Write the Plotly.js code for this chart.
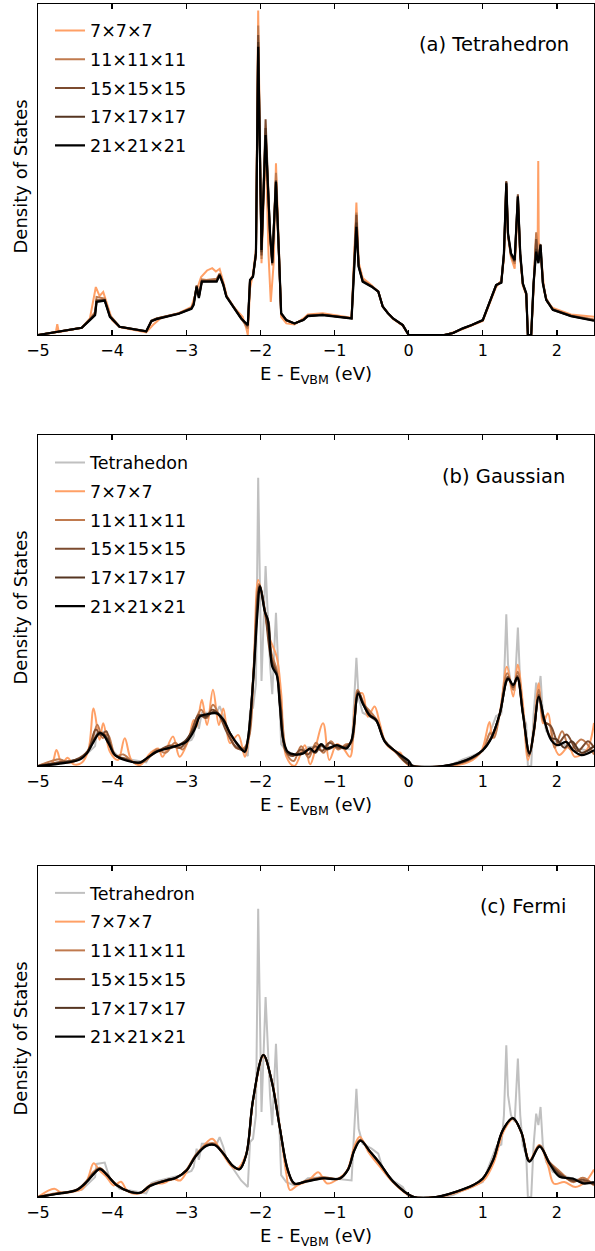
<!DOCTYPE html>
<html>
<head>
<meta charset="utf-8">
<script src="https://cdn.plot.ly/plotly-3.0.1.min.js"></script>
<style>html,body{margin:0;padding:0;background:#fff;}#chart{width:595px;height:1251px;}</style>
</head>
<body>
<div id="chart"></div>
<script>
// ---------------- DATA (energies in eV relative to VBM, DOS in arbitrary units) ----------------
const tickVals = [-5, -4, -3, -2, -1, 0, 1, 2];
const tickLabels = ['\u22125', '\u22124', '\u22123', '\u22122', '\u22121', '0', '1', '2'];
const meshLabels = ['7\u00d77\u00d77', '11\u00d711\u00d711', '15\u00d715\u00d715', '17\u00d717\u00d717', '21\u00d721\u00d721'];
const panelLabels = ['(a) Tetrahedron', '(b) Gaussian', '(c) Fermi'];
const refLabels = ['Tetrahedon', 'Tetrahedron'];

// (a) tetrahedron method
const tetraE = [-5.00,-4.41,-4.30,-4.23,-4.21,-4.10,-4.03,-3.90,-3.54,-3.47,-3.40,-3.10,-2.93,-2.90,-2.86,-2.83,-2.79,-2.73,-2.59,-2.55,-2.50,-2.46,-2.37,-2.26,-2.17,-2.14,-2.10,-2.06,-2.03,-1.985,-1.93,-1.87,-1.84,-1.79,-1.75,-1.72,-1.65,-1.54,-1.42,-1.36,-1.16,-0.77,-0.705,-0.675,-0.62,-0.50,-0.41,-0.35,-0.28,-0.21,-0.08,-0.01,0.00,0.48,0.60,0.73,0.85,1.00,1.18,1.25,1.285,1.317,1.34,1.38,1.43,1.473,1.505,1.54,1.586,1.608,1.653,1.685,1.72,1.75,1.779,1.81,1.855,1.945,2.06,2.19,2.50];
const tetra21 = [0.00,0.22,0.45,0.60,1.00,1.04,0.55,0.25,0.11,0.42,0.48,0.64,0.79,0.91,1.46,1.12,1.61,1.61,1.61,1.81,1.51,1.16,0.86,0.50,0.30,1.66,1.76,2.47,8.71,2.57,6.04,3.07,2.17,4.63,2.47,0.66,0.45,0.35,0.45,0.57,0.60,0.50,3.27,2.06,1.61,1.46,1.31,0.86,0.66,0.50,0.30,0.05,0.00,0.00,0.06,0.20,0.30,0.45,1.51,1.58,2.47,4.58,3.08,2.47,2.27,4.18,2.47,1.56,1.26,0.00,0.00,1.56,2.52,2.17,2.72,1.56,1.06,0.76,0.66,0.57,0.43];
const tetra17 = [0.00,0.22,0.46,0.62,1.02,1.05,0.56,0.25,0.11,0.43,0.49,0.65,0.80,0.93,1.48,1.14,1.62,1.62,1.63,1.82,1.52,1.17,0.86,0.51,0.28,1.66,1.77,2.45,8.85,2.50,6.25,3.05,2.20,4.65,2.45,0.65,0.45,0.35,0.46,0.58,0.61,0.50,3.40,2.08,1.62,1.47,1.31,0.86,0.66,0.50,0.30,0.05,0.00,0.00,0.06,0.20,0.30,0.45,1.51,1.59,2.45,4.62,3.05,2.45,2.25,4.20,2.45,1.55,1.25,0.00,0.00,1.55,2.60,2.20,2.75,1.58,1.07,0.76,0.66,0.57,0.44];
const tetra15 = [0.00,0.22,0.47,0.64,1.05,1.06,0.57,0.25,0.11,0.44,0.50,0.65,0.81,0.95,1.50,1.16,1.64,1.63,1.65,1.84,1.53,1.18,0.87,0.51,0.27,1.66,1.78,2.45,9.06,2.40,6.52,3.00,2.25,4.68,2.40,0.64,0.44,0.35,0.46,0.58,0.61,0.51,3.63,2.10,1.63,1.47,1.32,0.86,0.66,0.50,0.30,0.05,0.00,0.00,0.06,0.20,0.30,0.45,1.51,1.60,2.42,4.65,3.02,2.42,2.22,4.25,2.42,1.54,1.24,0.00,0.00,1.54,2.90,2.25,2.60,1.60,1.08,0.77,0.67,0.58,0.45];
const tetra11 = [0.00,0.22,0.48,0.70,1.15,1.10,0.60,0.25,0.10,0.40,0.50,0.66,0.82,0.98,1.45,1.20,1.68,1.66,1.70,1.86,1.55,1.20,0.88,0.52,0.20,1.62,1.80,2.40,9.35,2.30,6.10,2.90,2.10,4.90,2.35,0.62,0.44,0.34,0.47,0.59,0.62,0.51,3.70,2.12,1.65,1.48,1.32,0.86,0.66,0.50,0.30,0.04,0.00,0.00,0.06,0.19,0.30,0.44,1.49,1.62,2.40,4.50,3.00,2.40,2.15,4.10,2.40,1.52,1.23,0.00,0.00,1.50,3.10,2.35,2.50,1.62,1.10,0.78,0.68,0.59,0.47];
const tetra7E = [-5.00,-4.76,-4.74,-4.72,-4.41,-4.30,-4.22,-4.17,-4.12,-4.06,-4.00,-3.90,-3.54,-3.45,-3.35,-3.10,-2.93,-2.86,-2.80,-2.72,-2.65,-2.60,-2.55,-2.50,-2.45,-2.36,-2.27,-2.24,-2.19,-2.17,-2.14,-2.10,-2.06,-2.03,-1.985,-1.93,-1.89,-1.86,-1.82,-1.79,-1.75,-1.72,-1.65,-1.54,-1.42,-1.36,-1.16,-0.77,-0.705,-0.675,-0.62,-0.50,-0.41,-0.35,-0.21,-0.08,-0.01,0.00,0.50,0.73,1.00,1.18,1.25,1.285,1.317,1.34,1.38,1.43,1.473,1.505,1.54,1.586,1.608,1.653,1.685,1.72,1.740,1.748,1.755,1.79,1.83,1.87,1.945,2.06,2.19,2.50];
const tetra7 = [0.00,0.08,0.33,0.09,0.22,0.50,1.45,1.18,1.30,0.85,0.45,0.24,0.08,0.30,0.50,0.66,0.85,1.35,1.75,1.95,2.02,1.92,2.00,1.60,1.15,0.85,0.62,0.55,0.20,0.00,1.40,1.85,2.60,9.80,2.17,5.80,2.40,1.00,2.20,5.19,2.60,0.55,0.35,0.32,0.50,0.62,0.66,0.52,4.00,2.20,1.72,1.50,1.30,0.86,0.48,0.28,0.03,0.00,0.00,0.18,0.42,1.45,1.65,2.30,4.50,3.00,2.35,2.00,4.00,2.30,1.50,1.20,0.00,0.00,1.40,3.05,2.80,5.26,2.80,2.30,1.30,1.00,0.82,0.72,0.62,0.55];

// (b) Gaussian smearing
const gauss21E = [-5.00,-4.61,-4.43,-4.34,-4.25,-4.17,-4.12,-4.05,-3.96,-3.80,-3.62,-3.535,-3.40,-3.18,-3.00,-2.88,-2.82,-2.73,-2.59,-2.50,-2.41,-2.28,-2.21,-2.17,-2.10,-2.04,-2.005,-1.94,-1.90,-1.84,-1.78,-1.74,-1.69,-1.63,-1.54,-1.42,-1.33,-1.27,-1.18,-1.11,-0.97,-0.84,-0.77,-0.68,-0.62,-0.53,-0.44,-0.32,-0.17,0.01,0.05,0.46,0.78,1.00,1.115,1.23,1.34,1.41,1.465,1.54,1.63,1.69,1.756,1.83,1.92,2.01,2.125,2.215,2.33,2.50];
const gauss21 = [0.00,0.10,0.20,0.38,0.73,0.99,0.94,0.69,0.33,0.16,0.11,0.23,0.43,0.58,0.73,1.14,1.49,1.56,1.59,1.39,0.99,0.58,0.43,0.79,2.50,4.60,5.42,4.66,4.41,3.00,2.75,1.89,0.79,0.43,0.35,0.38,0.53,0.43,0.66,0.53,0.63,0.53,0.79,2.19,1.89,1.54,1.39,0.73,0.43,0.13,0.00,0.00,0.18,0.48,0.84,1.59,2.64,2.45,2.67,1.59,0.38,1.09,2.09,1.39,0.79,0.63,0.73,0.48,0.33,0.48];
const gauss17E = [-5.00,-4.62,-4.44,-4.34,-4.25,-4.17,-4.11,-4.04,-3.96,-3.80,-3.62,-3.53,-3.40,-3.20,-3.02,-2.88,-2.81,-2.73,-2.62,-2.50,-2.41,-2.28,-2.21,-2.17,-2.10,-2.005,-1.94,-1.89,-1.84,-1.78,-1.74,-1.69,-1.63,-1.53,-1.42,-1.33,-1.26,-1.18,-1.10,-0.97,-0.84,-0.77,-0.68,-0.62,-0.53,-0.44,-0.32,-0.17,0.02,0.47,0.78,1.00,1.115,1.23,1.34,1.41,1.465,1.54,1.63,1.69,1.756,1.83,1.92,2.00,2.10,2.20,2.33,2.50];
const gauss17 = [0.00,0.12,0.22,0.40,0.78,1.02,0.95,0.72,0.33,0.18,0.10,0.24,0.45,0.55,0.75,1.20,1.52,1.50,1.65,1.42,1.00,0.55,0.45,0.80,2.55,5.45,4.68,4.35,3.05,2.78,1.90,0.75,0.40,0.33,0.42,0.50,0.40,0.62,0.50,0.62,0.55,0.78,2.20,1.90,1.52,1.38,0.74,0.43,0.04,0.00,0.18,0.48,0.85,1.58,2.62,2.44,2.65,1.60,0.40,1.08,2.10,1.40,0.85,0.80,0.55,0.75,0.40,0.60];
const gauss15E = [-5.00,-4.70,-4.50,-4.33,-4.22,-4.15,-4.08,-3.98,-3.82,-3.65,-3.52,-3.38,-3.22,-3.08,-2.95,-2.83,-2.74,-2.65,-2.56,-2.46,-2.32,-2.22,-2.16,-2.10,-2.01,-1.94,-1.86,-1.78,-1.72,-1.66,-1.56,-1.45,-1.36,-1.26,-1.17,-1.07,-0.95,-0.84,-0.77,-0.68,-0.61,-0.52,-0.44,-0.32,-0.17,0.02,0.48,0.80,1.00,1.12,1.23,1.34,1.41,1.465,1.54,1.63,1.69,1.756,1.83,1.92,2.02,2.13,2.28,2.42,2.50];
const gauss15 = [0.00,0.12,0.18,0.45,1.10,0.92,1.05,0.35,0.22,0.08,0.25,0.45,0.62,0.55,0.95,1.55,1.45,1.70,1.55,1.05,0.55,0.50,0.85,2.60,5.45,4.70,3.30,2.80,1.70,0.45,0.30,0.50,0.35,0.60,0.45,0.70,0.55,0.60,0.75,2.25,1.90,1.55,1.40,0.75,0.42,0.03,0.00,0.17,0.48,0.90,1.58,2.70,2.38,2.72,1.62,0.35,1.05,2.15,1.35,1.20,0.70,0.95,0.45,0.75,0.55];
const gauss11E = [-5.00,-4.70,-4.60,-4.45,-4.30,-4.20,-4.13,-4.06,-3.95,-3.85,-3.70,-3.55,-3.40,-3.28,-3.15,-3.05,-2.92,-2.80,-2.72,-2.64,-2.55,-2.45,-2.33,-2.22,-2.15,-2.09,-2.02,-1.94,-1.85,-1.78,-1.71,-1.64,-1.55,-1.45,-1.35,-1.25,-1.15,-1.05,-0.95,-0.85,-0.77,-0.69,-0.60,-0.50,-0.42,-0.32,-0.17,0.02,0.50,0.80,1.00,1.10,1.15,1.23,1.33,1.41,1.47,1.54,1.62,1.69,1.756,1.83,1.90,1.97,2.07,2.18,2.33,2.50];
const gauss11 = [0.00,0.20,0.10,0.20,0.55,1.25,0.85,0.95,0.30,0.35,0.10,0.15,0.50,0.40,0.70,0.50,1.10,1.70,1.45,1.85,1.50,1.10,0.55,0.55,0.90,2.80,5.50,4.70,3.40,2.90,1.50,0.35,0.15,0.60,0.25,0.70,0.40,0.75,0.50,0.65,0.70,2.30,1.85,1.60,1.35,0.75,0.40,0.02,0.00,0.16,0.47,1.00,0.85,1.60,2.80,2.30,2.85,1.70,0.30,1.00,2.30,1.30,1.25,0.55,1.05,0.50,0.80,0.35];
const gauss7E = [-5.00,-4.82,-4.75,-4.68,-4.60,-4.52,-4.41,-4.32,-4.25,-4.17,-4.12,-4.03,-3.92,-3.83,-3.74,-3.62,-3.49,-3.38,-3.32,-3.18,-3.09,-2.97,-2.90,-2.86,-2.79,-2.72,-2.64,-2.56,-2.50,-2.41,-2.30,-2.21,-2.15,-2.09,-2.03,-1.96,-1.88,-1.78,-1.72,-1.65,-1.54,-1.40,-1.33,-1.155,-1.07,-0.97,-0.88,-0.79,-0.70,-0.624,-0.55,-0.46,-0.39,-0.30,-0.17,-0.11,-0.06,0.02,0.55,0.82,0.98,1.09,1.13,1.23,1.325,1.41,1.47,1.54,1.61,1.68,1.756,1.81,1.88,1.94,2.03,2.16,2.24,2.40,2.50];
const gauss7 = [0.00,0.05,0.48,0.08,0.25,0.05,0.10,0.48,1.74,0.79,1.29,0.43,0.18,0.84,0.18,0.03,0.38,0.53,0.28,0.89,0.28,0.79,1.39,1.19,2.00,1.24,2.30,1.24,1.74,0.69,0.94,0.28,1.00,3.00,5.62,4.90,3.90,3.30,2.20,0.28,0.00,0.63,0.05,1.29,0.18,0.66,0.53,0.28,2.09,2.20,1.49,1.80,1.29,0.65,0.43,0.40,0.15,0.00,0.00,0.13,0.45,1.33,0.84,1.59,3.00,2.10,3.06,1.90,0.18,0.99,2.50,1.29,1.59,0.79,0.33,0.58,0.28,0.48,1.30];

// (c) Fermi-Dirac smearing
const fermiE = [-5.00,-4.75,-4.48,-4.34,-4.25,-4.165,-4.08,-3.94,-3.76,-3.62,-3.49,-3.27,-3.14,-3.00,-2.87,-2.73,-2.62,-2.51,-2.37,-2.28,-2.19,-2.10,-1.96,-1.85,-1.74,-1.63,-1.54,-1.38,-1.155,-0.93,-0.82,-0.73,-0.65,-0.52,-0.39,-0.21,0.06,0.37,0.64,0.87,1.00,1.14,1.27,1.405,1.52,1.63,1.766,1.90,2.035,2.215,2.35,2.50];
const fermi21 = [0.00,0.09,0.21,0.46,0.69,0.84,0.69,0.36,0.16,0.13,0.33,0.50,0.58,0.79,1.24,1.54,1.57,1.34,0.94,0.84,1.29,2.93,4.29,3.53,2.12,0.82,0.41,0.47,0.56,0.56,0.82,1.42,1.70,1.37,1.02,0.47,0.01,0.00,0.16,0.36,0.56,1.12,2.02,2.38,1.96,1.07,1.52,1.01,0.61,0.56,0.41,0.45];
const fermi17 = [0.00,0.10,0.21,0.47,0.70,0.85,0.70,0.36,0.16,0.13,0.34,0.50,0.58,0.80,1.25,1.55,1.58,1.34,0.94,0.84,1.29,2.93,4.29,3.53,2.12,0.81,0.40,0.47,0.57,0.56,0.82,1.43,1.71,1.37,1.02,0.47,0.01,0.00,0.16,0.36,0.56,1.12,2.02,2.38,1.96,1.08,1.53,1.02,0.66,0.52,0.45,0.40];
const fermi15 = [0.00,0.10,0.22,0.48,0.72,0.86,0.70,0.37,0.15,0.13,0.34,0.51,0.57,0.80,1.26,1.56,1.59,1.35,0.93,0.85,1.28,2.92,4.30,3.52,2.12,0.80,0.40,0.48,0.58,0.56,0.83,1.44,1.72,1.36,1.01,0.47,0.01,0.00,0.16,0.36,0.56,1.12,2.02,2.38,1.95,1.08,1.55,1.04,0.72,0.48,0.52,0.38];
const fermi11 = [0.00,0.12,0.20,0.50,0.76,0.88,0.68,0.38,0.15,0.12,0.36,0.49,0.56,0.82,1.28,1.58,1.62,1.36,0.92,0.86,1.27,2.91,4.28,3.54,2.13,0.78,0.38,0.50,0.60,0.55,0.84,1.46,1.74,1.36,1.00,0.46,0.01,0.00,0.15,0.35,0.55,1.10,2.00,2.37,1.94,1.09,1.56,1.05,0.78,0.45,0.58,0.35];
const fermi7E = [-5.00,-4.78,-4.68,-4.55,-4.40,-4.32,-4.25,-4.17,-4.08,-3.98,-3.88,-3.80,-3.70,-3.58,-3.45,-3.30,-3.18,-3.08,-2.95,-2.82,-2.65,-2.55,-2.40,-2.32,-2.20,-2.10,-1.96,-1.85,-1.74,-1.65,-1.60,-1.50,-1.35,-1.22,-1.10,-0.95,-0.83,-0.73,-0.66,-0.54,-0.40,-0.20,0.05,0.40,0.66,0.88,1.02,1.15,1.28,1.41,1.53,1.63,1.76,1.88,1.96,2.10,2.25,2.38,2.50];
const fermi7 = [0.00,0.25,0.12,0.15,0.25,0.60,1.02,0.80,0.62,0.35,0.46,0.20,0.10,0.15,0.38,0.42,0.55,0.50,0.95,1.40,1.76,1.45,0.95,0.85,1.25,2.90,4.25,3.55,2.15,0.70,0.21,0.35,0.50,0.75,0.41,0.55,0.80,1.55,1.82,1.35,0.95,0.42,0.00,0.00,0.14,0.33,0.52,1.05,1.98,2.36,1.90,1.10,1.57,0.95,0.40,0.45,0.30,0.45,0.83];

// ---------------- STYLE ----------------
const meshColors = ['#ffa066', '#c07a4e', '#7c4b2f', '#553521', '#000000'];
const refColor = '#c0c0c0';
const FONT = 'DejaVu Sans, sans-serif';

function line(x, y, name, color, ax, leg, shape) {
  return {
    type: 'scatter', mode: 'lines', x: x, y: y, name: name,
    xaxis: 'x' + ax, yaxis: 'y' + ax, legend: leg, legendgroup: leg + name,
    line: {color: color, width: color === '#000000' ? 2.2 : 2, shape: shape, smoothing: 1},
    hoverinfo: 'skip'
  };
}

const traces = [];
// panel a
const tetraSets = [[tetra7E, tetra7], [tetraE, tetra11], [tetraE, tetra15], [tetraE, tetra17], [tetraE, tetra21]];
tetraSets.forEach((s, i) => traces.push(line(s[0], s[1], meshLabels[i], meshColors[i], '', 'legend', 'linear')));
// panel b
traces.push(line(tetraE, tetra21, refLabels[0], refColor, '2', 'legend2', 'linear'));
const gaussSets = [[gauss7E, gauss7], [gauss11E, gauss11], [gauss15E, gauss15], [gauss17E, gauss17], [gauss21E, gauss21]];
gaussSets.forEach((s, i) => traces.push(line(s[0], s[1], meshLabels[i], meshColors[i], '2', 'legend2', 'spline')));
// panel c
traces.push(line(tetraE, tetra21, refLabels[1], refColor, '3', 'legend3', 'linear'));
const fermiSets = [[fermi7E, fermi7], [fermiE, fermi11], [fermiE, fermi15], [fermiE, fermi17], [fermiE, fermi21]];
fermiSets.forEach((s, i) => traces.push(line(s[0], s[1], meshLabels[i], meshColors[i], '3', 'legend3', 'spline')));

function xax(anchor) {
  return {
    anchor: anchor, range: [-5, 2.5], tickmode: 'array', tickvals: tickVals, ticktext: tickLabels,
    ticks: 'inside', ticklen: 5, tickwidth: 1.3, tickcolor: '#000',
    showline: true, linewidth: 1.3, linecolor: '#000', mirror: 'ticks',
    showgrid: false, zeroline: false, automargin: false,
    tickfont: {family: FONT, size: 16, color: '#000'},
    title: {text: 'E - E<sub>VBM</sub> (eV)', font: {family: FONT, size: 18, color: '#000'}, standoff: 9}
  };
}
function yax(anchor, dom) {
  return {
    anchor: anchor, domain: dom, range: [0, 10], showticklabels: false, ticks: '',
    showline: true, linewidth: 1.3, linecolor: '#000', mirror: true,
    showgrid: false, zeroline: false, automargin: false
  };
}
function leg(y) {
  return {
    x: 0.0216, y: y, xanchor: 'left', yanchor: 'top', xref: 'paper', yref: 'paper',
    bgcolor: 'rgba(0,0,0,0)', borderwidth: 0, tracegroupgap: 3,
    font: {family: FONT, size: 17.5, color: '#000'}
  };
}
const H = 1193;
function py(p) { return (1197 - p) / H; }

const yTitleCenters = [177, 608, 1039];
const labelPos = [[570.7, 44.5], [566.7, 476], [568.3, 906]];
const annotations = [];
yTitleCenters.forEach(c => annotations.push({
  text: 'Density of States', xref: 'paper', yref: 'paper', x: (19.5 - 38) / 556, y: py(c),
  xanchor: 'center', yanchor: 'middle', textangle: -90, showarrow: false,
  font: {family: FONT, size: 18, color: '#000'}
}));
labelPos.forEach((p, i) => annotations.push({
  text: panelLabels[i], xref: 'paper', yref: 'paper', x: (p[0] - 38) / 556, y: py(p[1]),
  xanchor: 'right', yanchor: 'middle', showarrow: false,
  font: {family: FONT, size: 19.5, color: '#000'}
}));

const layout = {
  width: 595, height: 1251, margin: {l: 38, r: 1, t: 4, b: 54},
  paper_bgcolor: '#fff', plot_bgcolor: '#fff',
  font: {family: FONT, color: '#000'},
  xaxis: xax('y'), xaxis2: xax('y2'), xaxis3: xax('y3'),
  yaxis: yax('x', [py(335), 1]), yaxis2: yax('x2', [py(766), py(435)]), yaxis3: yax('x3', [0, py(866)]),
  legend: leg(py(12.5)), legend2: leg(py(444.5)), legend3: leg(py(875)),
  annotations: annotations, showlegend: true
};

Plotly.newPlot('chart', traces, layout, {displayModeBar: false, staticPlot: true});
</script>
</body>
</html>
